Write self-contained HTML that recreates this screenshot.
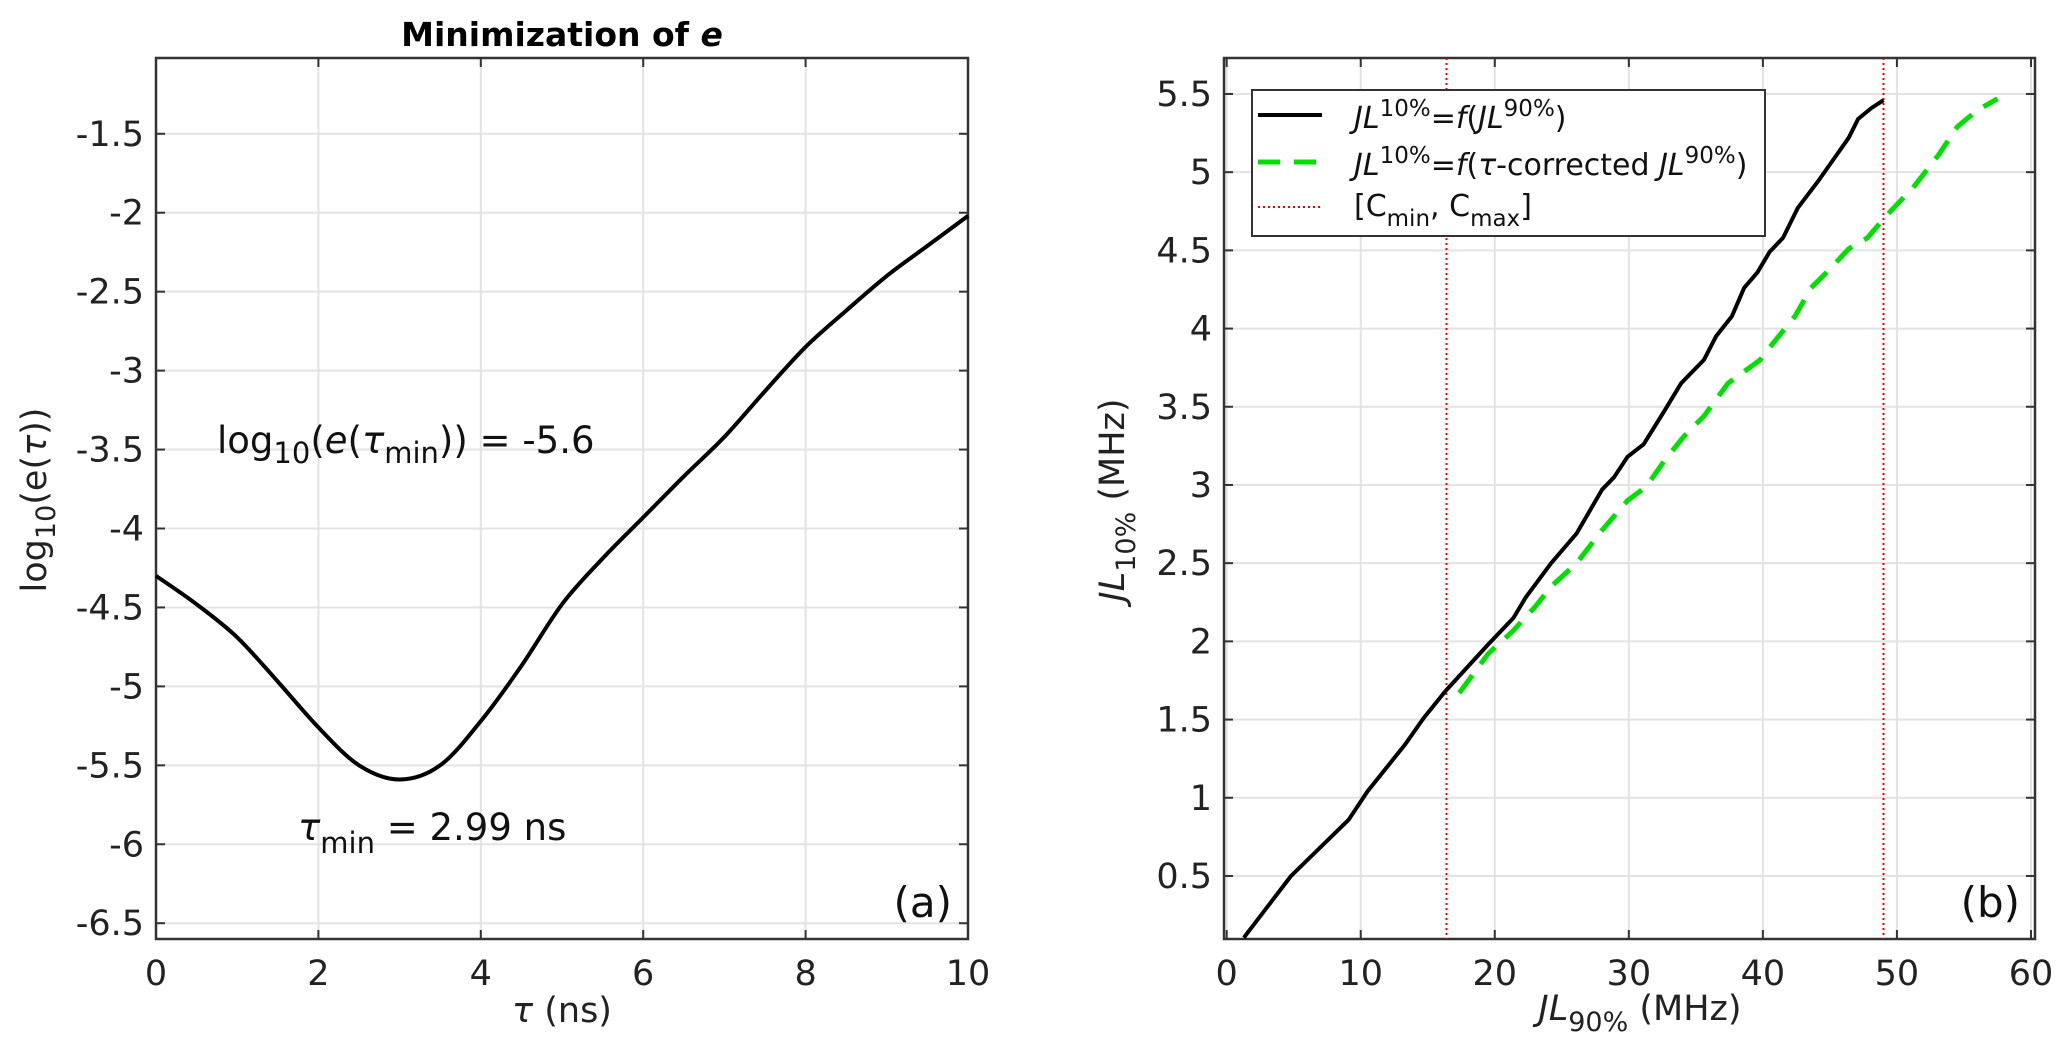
<!DOCTYPE html>
<html><head><meta charset="utf-8"><style>
html,body{margin:0;padding:0;background:#fff}
svg{display:block;font-family:"DejaVu Sans","Liberation Sans",sans-serif}
</style></head><body>
<svg id="chart" width="2067" height="1053" viewBox="0 0 2067 1053">
<g id="pa"></g>
<g id="pb"></g>
</svg>
<script>
// Panel (a) data
const tauValues=[0,0.5,1,1.5,2,2.5,3,3.5,4,4.5,5,5.5,6,6.5,7,7.5,8,8.5,9,9.5,10];
const logErr=[-4.30,-4.48,-4.69,-4.97,-5.26,-5.50,-5.59,-5.50,-5.22,-4.87,-4.48,-4.19,-3.93,-3.67,-3.42,-3.13,-2.85,-2.62,-2.40,-2.21,-2.02];
const aXTicks=[0,2,4,6,8,10];
const aYTicks=[-6.5,-6,-5.5,-5,-4.5,-4,-3.5,-3,-2.5,-2,-1.5];
// Panel (b) data
const blackX=[1.28,4.8,9.1,10.5,13.3,14.7,16.3,19.5,21.4,22.3,24.2,26.1,28,28.9,29.9,31.1,32.7,33.9,35.6,36.5,37.7,38.6,39.6,40.5,41.5,42.6,44.1,45.5,46.4,47.1,48.1,49];
const blackY=[0.105,0.5,0.86,1.04,1.34,1.51,1.68,1.98,2.15,2.28,2.5,2.69,2.97,3.05,3.18,3.26,3.48,3.65,3.80,3.95,4.08,4.26,4.36,4.49,4.58,4.77,4.94,5.11,5.22,5.34,5.41,5.46];
const greenX=[17.35,19.5,21.4,23,24.2,26.1,28,29.9,31.3,32.7,34.1,35.6,37.4,39.8,40.8,42.4,43.6,45,46.4,47.8,49.3,51.2,53.1,54.5,55.9,57.5];
const greenY=[1.67,1.92,2.07,2.22,2.35,2.50,2.71,2.90,2.99,3.16,3.31,3.44,3.65,3.80,3.91,4.08,4.26,4.38,4.51,4.58,4.73,4.90,5.11,5.29,5.39,5.47];
const cBounds=[16.4,49];
const bXTicks=[0,10,20,30,40,50,60];
const bYTicks=[0.5,1,1.5,2,2.5,3,3.5,4,4.5,5,5.5];

const NS="http://www.w3.org/2000/svg";
function mk(parent,tag,attrs,text){const e=document.createElementNS(NS,tag);for(const k in attrs)e.setAttribute(k,attrs[k]);if(text!==undefined)e.textContent=text;parent.appendChild(e);return e;}

function panel(g,L,R,T,B,xmin,xmax,ymin,ymax,xt,yt){
  const sx=v=>L+(v-xmin)/(xmax-xmin)*(R-L);
  const sy=v=>B-(v-ymin)/(ymax-ymin)*(B-T);
  xt.forEach(v=>{const l=mk(g,'line',{x1:sx(v),x2:sx(v),y1:T,y2:B,stroke:'#e3e3e3','stroke-width':2});
    
    
    mk(g,'line',{x1:sx(v),x2:sx(v),y1:B,y2:B-9,stroke:'#333','stroke-width':2});
    mk(g,'line',{x1:sx(v),x2:sx(v),y1:T,y2:T+9,stroke:'#333','stroke-width':2});
    const t=mk(g,'text',{x:sx(v),y:B+46,'text-anchor':'middle','font-size':35,fill:'#222'},String(v));
    
    });
  yt.forEach(v=>{const l=mk(g,'line',{x1:L,x2:R,y1:sy(v),y2:sy(v),stroke:'#e3e3e3','stroke-width':2});
    
    
    mk(g,'line',{x1:L,x2:L+9,y1:sy(v),y2:sy(v),stroke:'#333','stroke-width':2});
    mk(g,'line',{x1:R,x2:R-9,y1:sy(v),y2:sy(v),stroke:'#333','stroke-width':2});
    const t=mk(g,'text',{x:L-12,y:sy(v)+12,'text-anchor':'end','font-size':35,fill:'#222'},String(v));
    
    });
  const box=mk(g,'rect',{x:L,y:T,width:R-L,height:B-T,fill:'none',stroke:'#333','stroke-width':2.5});
  
  
  return {sx,sy};
}
function path(g,xs,ys,s,attrs,name,smooth){
  const P=xs.map((x,i)=>[s.sx(x),s.sy(ys[i])]);
  let d='M'+P[0][0].toFixed(1)+' '+P[0][1].toFixed(1);
  for(let i=1;i<P.length;i++){
    if(smooth){
      const p0=P[Math.max(0,i-2)],p1=P[i-1],p2=P[i],p3=P[Math.min(P.length-1,i+1)];
      const c1=[p1[0]+(p2[0]-p0[0])/6,p1[1]+(p2[1]-p0[1])/6];
      const c2=[p2[0]-(p3[0]-p1[0])/6,p2[1]-(p3[1]-p1[1])/6];
      d+=` C${c1[0].toFixed(1)} ${c1[1].toFixed(1)} ${c2[0].toFixed(1)} ${c2[1].toFixed(1)} ${p2[0].toFixed(1)} ${p2[1].toFixed(1)}`;
    } else d+=` L${P[i][0].toFixed(1)} ${P[i][1].toFixed(1)}`;
  }
  const p=mk(g,'path',Object.assign({d,fill:'none'},attrs));
  
  
  return p;
}
// Panel a
const ga=document.getElementById('pa');
const sa=panel(ga,156,968,58,939,0,10,-6.60,-1.02,aXTicks,aYTicks);
path(ga,tauValues,logErr,sa,{stroke:'#000','stroke-width':4,'stroke-linejoin':'round'},'error-curve',true);
ga.insertAdjacentHTML('beforeend',`
<text x="562" y="46" text-anchor="middle" font-size="33" font-weight="bold">Minimization of <tspan font-style="italic">e</tspan></text>
<text x="562" y="1022" text-anchor="middle" font-size="35" fill="#222"><tspan font-style="italic">τ</tspan> (ns)</text>
<text transform="translate(46,500) rotate(-90)" text-anchor="middle" font-size="35" fill="#222">log<tspan font-size="27" dy="9">10</tspan><tspan dy="-9">(e(</tspan><tspan font-style="italic">τ</tspan>))</text>
<text x="217" y="453" font-size="37" fill="#111">log<tspan font-size="29" dy="10">10</tspan><tspan dy="-10">(</tspan><tspan font-style="italic">e</tspan>(<tspan font-style="italic">τ</tspan><tspan font-size="29" dy="10">min</tspan><tspan dy="-10">)) = -5.6</tspan></text>
<text x="298" y="840" font-size="37" fill="#111"><tspan font-style="italic">τ</tspan><tspan font-size="29" dy="13">min</tspan><tspan dy="-13"> = 2.99 ns</tspan></text>
<text x="952" y="917" text-anchor="end" font-size="42" fill="#111">(a)</text>`);
// Panel b
const gb=document.getElementById('pb');
const sb=panel(gb,1224,2035,58,939,-0.2,60.3,0.097,5.73,bXTicks,bYTicks);
cBounds.forEach(v=>{const l=mk(gb,'line',{x1:sb.sx(v),x2:sb.sx(v),y1:58,y2:939,stroke:'#e00','stroke-width':2,'stroke-dasharray':'2 3'});
  
  });
path(gb,greenX,greenY,sb,{stroke:'#00e000','stroke-width':5,'stroke-dasharray':'22 14'},'tau-corrected-curve',false);
path(gb,blackX,blackY,sb,{stroke:'#000','stroke-width':4,'stroke-linejoin':'round'},'jl-curve',false);
gb.insertAdjacentHTML('beforeend',`
<text x="1640" y="1020" text-anchor="middle" font-size="35" fill="#222"><tspan font-style="italic">JL</tspan><tspan font-size="27" dy="11">90%</tspan><tspan dy="-11"> (MHz)</tspan></text>
<text transform="translate(1124,500) rotate(-90)" text-anchor="middle" font-size="35" fill="#222"><tspan font-style="italic">JL</tspan><tspan font-size="27" dy="11">10%</tspan><tspan dy="-11"> (MHz)</tspan></text>
<text x="2020" y="917" text-anchor="end" font-size="42" fill="#111">(b)</text>
<g>
<rect x="1252" y="90" width="513" height="146" fill="#fff" stroke="#333" stroke-width="2"/>
<line x1="1258" x2="1322" y1="115" y2="115" stroke="#000" stroke-width="4"/>
<line x1="1258" x2="1322" y1="162" y2="162" stroke="#00e000" stroke-width="5" stroke-dasharray="22 14"/>
<line x1="1258" x2="1322" y1="207" y2="207" stroke="#e00" stroke-width="2" stroke-dasharray="2 3"/>
<text x="1354" y="128" font-size="30" fill="#111"><tspan font-style="italic">JL</tspan><tspan font-size="23" dy="-12">10%</tspan><tspan dy="12">=</tspan><tspan font-style="italic">f</tspan>(<tspan font-style="italic">JL</tspan><tspan font-size="23" dy="-12">90%</tspan><tspan dy="12">)</tspan></text>
<text x="1354" y="175" font-size="30" fill="#111"><tspan font-style="italic">JL</tspan><tspan font-size="23" dy="-12">10%</tspan><tspan dy="12">=</tspan><tspan font-style="italic">f</tspan>(<tspan font-style="italic">τ</tspan>-corrected <tspan font-style="italic">JL</tspan><tspan font-size="23" dy="-12">90%</tspan><tspan dy="12">)</tspan></text>
<text x="1354" y="216" font-size="30" fill="#111">[C<tspan font-size="23" dy="10">min</tspan><tspan dy="-10">, C</tspan><tspan font-size="23" dy="10">max</tspan><tspan dy="-10">]</tspan></text>
</g>`);
</script>
</body></html>
